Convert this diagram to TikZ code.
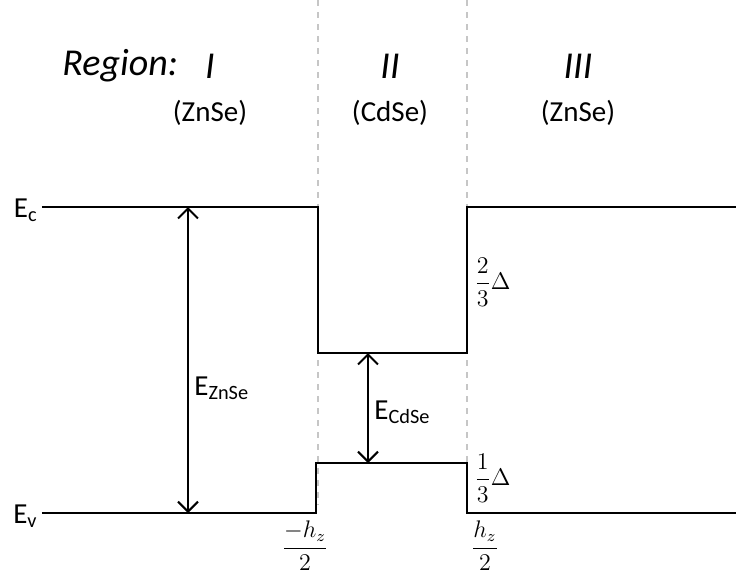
\documentclass[tikz,border=0pt]{standalone}
\usepackage{amsmath}
\usepackage{fontspec}
\setmainfont{Carlito}
\usetikzlibrary{arrows.meta}
\tikzset{
  band/.style={line width=1pt, black},
  gap/.style={line width=1pt, {Straight Barb[length=5pt,width=10pt]}-{Straight Barb[length=5pt,width=10pt]}},
  border/.style={gray!45, dashed, line width=0.8pt},
  lbl/.style={font=\fontsize{14.5}{17}\selectfont, inner sep=0pt},
  frc/.style={font=\fontsize{11.5}{14}\selectfont, inner sep=0pt},
  reg/.style={font=\fontsize{19}{22}\selectfont\itshape, inner sep=0pt}
}
\begin{document}
\begin{tikzpicture}[x=0.5pt, y=-0.5pt, >=stealth]
  \useasboundingbox (0,0) rectangle (736,575);

  % interfaces
  \draw[border] (318,0) -- (318,505);
  \draw[border] (467,0) -- (467,505);

  % conduction band edge
  \coordinate (cl) at (42,207);
  \coordinate (cwl) at (318,353);
  \coordinate (cwr) at (467,353);
  \draw[band] (cl) -- (318,207) -- (cwl) -- (cwr) -- (467,207) -- (736,207);

  % valence band edge
  \coordinate (vl) at (42,513);
  \coordinate (vwl) at (316,463);
  \coordinate (vwr) at (467,463);
  \draw[band] (vl) -- (316,513) -- (vwl) -- (vwr) -- (467,513) -- (736,513);

  % gaps
  \coordinate (gzt) at (188,207);
  \coordinate (gzb) at (188,513);
  \coordinate (gct) at (368,353);
  \coordinate (gcb) at (368,463);
  \draw[gap] (gzt) -- (gzb);
  \draw[gap] (gct) -- (gcb);
  \node[lbl, anchor=west] (ezn) at (194,388) {E\textsubscript{ZnSe}};
  \node[lbl, anchor=west] (ecd) at (374,412) {E\textsubscript{CdSe}};

  % level labels
  \node[lbl, anchor=east] (ec) at (38,210) {E\textsubscript{c}};
  \node[lbl, anchor=east] (ev) at (38,516) {E\textsubscript{v}};

  % regions
  \node[reg, anchor=west] (rg) at (62,66) {Region:};
  \node[reg] (r1) at (210,66) {I};
  \node[reg] (r2) at (390,66) {II};
  \node[reg] (r3) at (578,66) {III};
  \node[lbl] (m1) at (210,113) {(ZnSe)};
  \node[lbl] (m2) at (390,113) {(CdSe)};
  \node[lbl] (m3) at (578,113) {(ZnSe)};

  % offsets and widths
  \node[frc, anchor=west] (off1) at (474,282) {$\dfrac{2}{3}\Delta$};
  \node[frc, anchor=west] (off2) at (474,478) {$\dfrac{1}{3}\Delta$};
  \node[frc] (wl) at (305,546) {$\dfrac{-h_z}{2}$};
  \node[frc] (wr) at (485,546) {$\dfrac{h_z}{2}$};
\end{tikzpicture}
\end{document}
